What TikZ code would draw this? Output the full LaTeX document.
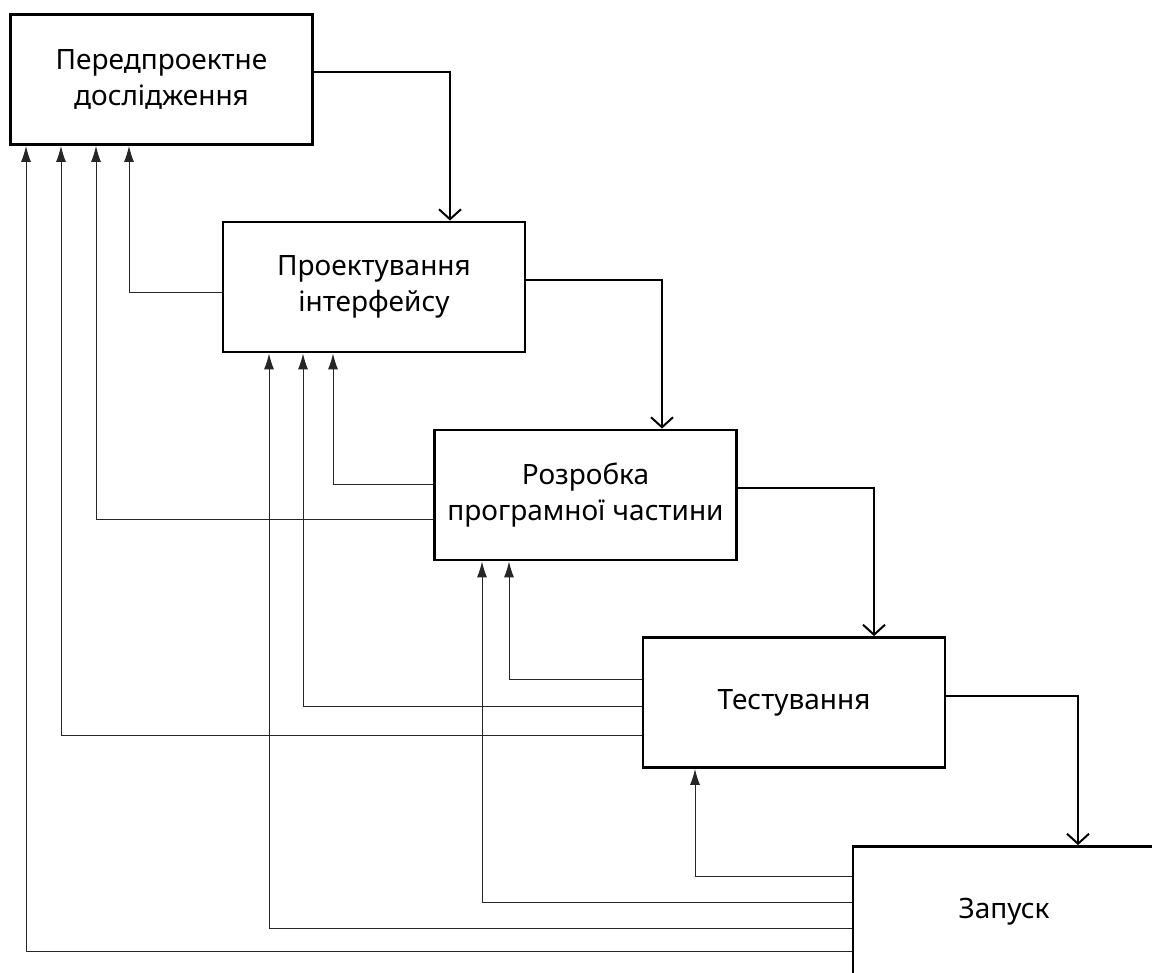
\documentclass[tikz,border=0pt]{standalone}
\usepackage{fontspec}
\setmainfont{Noto Sans}
\usetikzlibrary{positioning, arrows.meta}

\begin{document}
\begin{tikzpicture}[
    x=0.5pt, y=-0.5pt,
    font=\fontsize{14}{18}\selectfont,
    stage/.style={draw, line width=1.4pt, align=center, minimum width=151pt, minimum height=65pt, inner sep=0pt},
    flow/.style={line width=1pt, -{Straight Barb[length=5pt,width=11pt]}},
    back/.style={line width=0.5pt, draw=black!85, -{Latex[length=8pt,width=5pt]}}
  ]
  \useasboundingbox (0,0) rectangle (1152,973);
  \clip (0,0) rectangle (1152,973);

  % Етапи
  \node[stage] (s1) at (161.5,79.5) {Передпроектне\\дослідження};
  \node[stage] (s2) at (374,287) {Проектування\\інтерфейсу};
  \node[stage] (s3) at (585.5,495) {Розробка\\програмної частини};
  \node[stage] (s4) at (794,702.5) {Тестування};
  \node[stage] (s5) at (1004,911.5) {Запуск};

  % Прямий хід
  \draw[flow] (s1.east |- 0,72) -| (s2.north -| 450,0);
  \draw[flow] (s2.east |- 0,280) -| (s3.north -| 662,0);
  \draw[flow] (s3.east |- 0,488) -| (s4.north -| 874,0);
  \draw[flow] (s4.east |- 0,696) -| (s5.north -| 1078,0);

  % Повернення
  \foreach \a/\b/\y/\x in {s2/s1/293/129, s3/s2/484/333, s3/s1/519/96,
      s4/s3/679/509, s4/s2/706/303, s4/s1/735/61,
      s5/s4/876/695, s5/s3/902/482, s5/s2/928/269, s5/s1/951/26}
    \draw[back] (\a.west |- 0,\y) -| (\b.south -| \x,0);

\end{tikzpicture}
\end{document}
